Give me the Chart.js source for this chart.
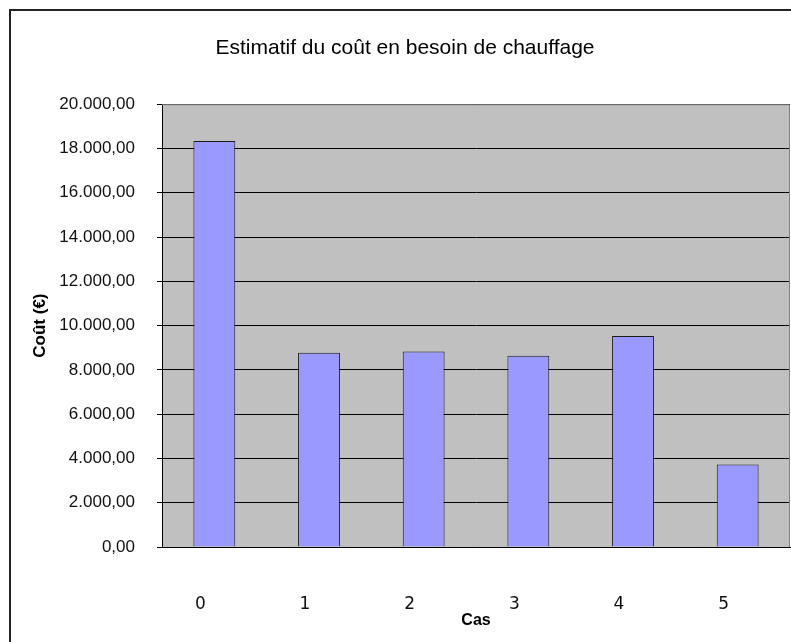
<!DOCTYPE html>
<html>
<head>
<meta charset="utf-8">
<script src="https://cdn.jsdelivr.net/npm/chart.js@4.4.1/dist/chart.umd.min.js"></script>
<style>
  html, body { margin: 0; padding: 0; background: #fff; overflow: hidden; }
  #wrap { position: relative; width: 791px; height: 642px; }
  #frame { position: absolute; left: 9px; top: 9px; width: 900px; height: 800px; border: 2px solid #222; box-sizing: border-box; }
  canvas { position: absolute; left: 0; top: 0; }
</style>
</head>
<body>
<div id="wrap">
  <div id="frame"></div>
  <canvas id="chart" width="791" height="642"></canvas>
</div>
<script>
const categories = ["0", "1", "2", "3", "4", "5"];
const costs = [18340, 8770, 8830, 8640, 9530, 3730];
const yTicks = [0, 2000, 4000, 6000, 8000, 10000, 12000, 14000, 16000, 18000, 20000];

// format 20000 -> "20.000,00"
function frNumber(v) {
  const whole = Math.round(v).toString().replace(/\B(?=(\d{3})+(?!\d))/g, ".");
  return whole + ",00";
}

// grey plot background + grey top/right edge
const plotArea = {
  id: "plotArea",
  beforeDraw(chart) {
    const { ctx, chartArea: a } = chart;
    ctx.save();
    ctx.fillStyle = "#c0c0c0";
    ctx.fillRect(a.left, a.top, a.right - a.left, a.bottom - a.top);
    ctx.restore();
  },
  afterDatasetsDraw(chart) {
    const { ctx, chartArea: a } = chart;
    ctx.save();
    ctx.strokeStyle = "#808080";
    ctx.lineWidth = 1;
    ctx.beginPath();
    ctx.moveTo(a.left, a.top + 0.5);
    ctx.lineTo(a.right - 0.5, a.top + 0.5);
    ctx.lineTo(a.right - 0.5, a.bottom);
    ctx.stroke();
    ctx.restore();
  }
};

new Chart(document.getElementById("chart").getContext("2d"), {
  type: "bar",
  data: {
    labels: categories,
    datasets: [{
      data: costs,
      backgroundColor: "#9999ff",
      borderColor: "#1a1a1a",
      borderWidth: 1,
      barPercentage: 0.8,
      categoryPercentage: 0.5
    }]
  },
  options: {
    responsive: false,
    animation: false,
    layout: { padding: { left: 20, right: 1, top: 0, bottom: 0 } },
    plugins: {
      legend: { display: false },
      tooltip: { enabled: false },
      title: {
        display: true,
        text: "Estimatif du coût en besoin de chauffage",
        color: "#000",
        font: { family: "Liberation Sans, Arial, sans-serif", size: 21, weight: "normal" },
        padding: { top: 36, bottom: 43 }
      }
    },
    scales: {
      x: {
        grid: { display: false, drawTicks: false },
        border: { display: true, color: "#000", width: 1 },
        ticks: {
          color: "#111",
          padding: 47,
          labelOffset: -14,
          font: { family: "DejaVu Sans, Verdana, sans-serif", size: 17 }
        },
        title: {
          display: true,
          text: "Cas",
          color: "#000",
          font: { family: "Liberation Sans, Arial, sans-serif", size: 16, weight: "bold" },
          padding: { top: 0, bottom: 12 }
        },
        afterFit(scale) { scale.height = 95; }
      },
      y: {
        min: 0,
        max: 20000,
        afterBuildTicks(scale) { scale.ticks = yTicks.map(v => ({ value: v })); },
        grid: {
          color: "#000",
          lineWidth: 1,
          tickLength: 5,
          tickColor: "#000",
          drawTicks: true
        },
        border: { display: true, color: "#000", width: 1 },
        ticks: {
          color: "#111",
          padding: 22,
          font: { family: "Liberation Sans, Arial, sans-serif", size: 17 },
          callback: v => frNumber(v)
        },
        title: {
          display: true,
          text: "Coût (€)",
          color: "#000",
          font: { family: "Liberation Sans, Arial, sans-serif", size: 17, weight: "bold" },
          padding: { top: 10, bottom: 0 }
        },
        afterFit(scale) { scale.width = 142; }
      }
    }
  },
  plugins: [plotArea]
});
</script>
</body>
</html>
